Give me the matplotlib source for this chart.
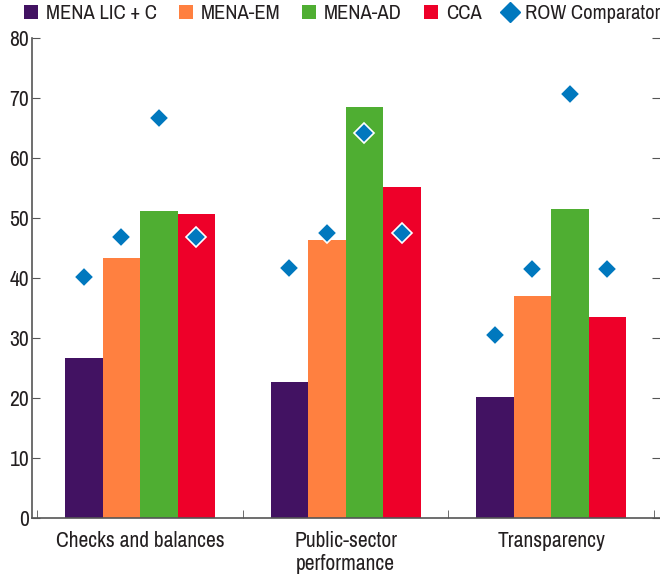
import matplotlib
matplotlib.use("Agg")
import matplotlib.pyplot as plt
import numpy as np

plt.rcParams["font.family"] = ["Archivo Narrow", "Liberation Sans", "DejaVu Sans"]

categories = ["Checks and balances", "Public-sector\nperformance", "Transparency"]
series = ["MENA LIC + C", "MENA-EM", "MENA-AD", "CCA"]
colors = ["#421262", "#FF8040", "#4FAE32", "#EE0029"]

values = [
    [26.7, 22.7, 20.2],   # MENA LIC + C
    [43.3, 46.3, 37.0],   # MENA-EM
    [51.2, 68.5, 51.5],   # MENA-AD
    [50.7, 55.2, 33.5],   # CCA
]
# ROW comparator, one per bar
row_comp = [
    [40.2, 41.7, 30.5],
    [46.8, 47.5, 41.5],
    [66.7, 64.2, 70.7],
    [46.8, 47.5, 41.5],
]

fig = plt.figure(figsize=(6.6, 5.75), dpi=100)
ax = fig.add_axes([0.0485, 0.099, 0.9515, 0.835])

x = np.arange(len(categories))
w = 0.1825
offsets = (np.arange(4) - 1.5) * w
handles = []
for i in range(4):
    b = ax.bar(x + offsets[i], values[i], w, color=colors[i], label=series[i], zorder=2)
    handles.append(b)
for i in range(4):
    ax.plot(x + offsets[i], row_comp[i], "D", color="#0078BE", ms=10,
            mec="white", mew=1.2, ls="none", zorder=3)
leg_d, = ax.plot([], [], "D", color="#0078BE", ms=10, mec="#0078BE", ls="none",
                 label="ROW Comparator")
handles.append(leg_d)

ax.set_xlim(-0.526, 2.53)
ax.set_ylim(0, 80)
ax.set_yticks(np.arange(0, 81, 10))
ax.set_xticks(x)
ax.set_xticklabels(categories, fontsize=15.5, color="#231F20", linespacing=1.2)
ax.set_xticks([-0.5, 0.5, 1.5, 2.5], minor=True)
ax.tick_params(axis="x", which="major", length=0, pad=9)
ax.tick_params(axis="x", which="minor", direction="in", length=6, color="#555555")
ax.tick_params(axis="y", direction="in", length=6, right=True, labelsize=15.5,
               labelcolor="#231F20", color="#555555", pad=2)
for s in ["top", "right"]:
    ax.spines[s].set_visible(False)
for s in ["left", "bottom"]:
    ax.spines[s].set_color("#555555")
    ax.spines[s].set_linewidth(1.2)

fig.legend(handles=handles, labels=series + ["ROW Comparator"], loc="upper left",
           bbox_to_anchor=(0.036, 0.993), ncol=5, frameon=False, fontsize=14.8,
           borderpad=0, borderaxespad=0,
           handlelength=0.7, handleheight=0.7, handletextpad=0.38, columnspacing=1.05,
           labelcolor="#231F20")

fig.savefig("out.png", dpi=100)
